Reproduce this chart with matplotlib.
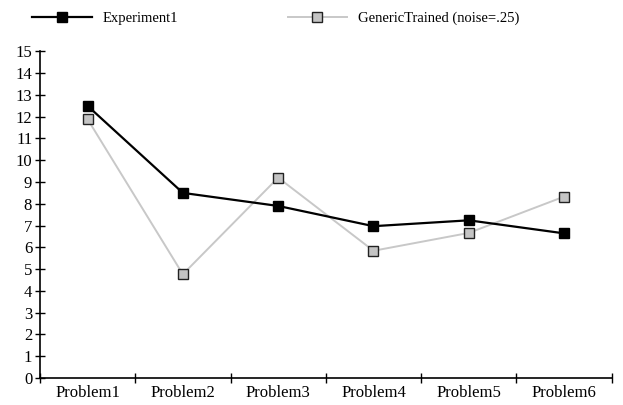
import numpy as np
import matplotlib.pyplot as plt

# values
problems = ["Problem1", "Problem2", "Problem3", "Problem4", "Problem5", "Problem6"]
experiment1 = [12.5, 8.5, 7.9, 6.97, 7.24, 6.64]
generic_trained = [11.89, 4.76, 9.2, 5.84, 6.66, 8.33]
y_ticks = list(range(0, 16))

plt.rcParams['font.family'] = ['Liberation Serif', 'DejaVu Serif']

fig = plt.figure(figsize=(6.23, 4.05), dpi=100)
ax = fig.add_axes([0.064, 0.067, 0.918, 0.806])

x = np.arange(1, len(problems) + 1)
ax.plot(x, experiment1, color='black', linewidth=1.6, marker='s',
        markersize=7.5, markerfacecolor='black', markeredgecolor='black',
        label='Experiment1', zorder=3)
ax.plot(x, generic_trained, color='#c8c8c8', linewidth=1.4, marker='s',
        markersize=7, markerfacecolor='#c4c4c4', markeredgecolor='#222222',
        markeredgewidth=1.0, label='GenericTrained (noise=.25)', zorder=2)

ax.set_xlim(0.5, len(problems) + 0.5)
ax.set_ylim(0, 15)
ax.set_yticks(y_ticks)
ax.set_xticks(np.arange(0.5, len(problems) + 1, 1.0))
ax.set_xticklabels([])
ax.set_xticks(x, minor=True)
ax.set_xticklabels(problems, minor=True)
ax.tick_params(axis='x', which='minor', length=0, labelsize=12, pad=5)
ax.tick_params(axis='x', which='major', direction='inout', length=7, width=1)
ax.tick_params(axis='y', direction='inout', length=7, width=1, labelsize=12, pad=2)

for side in ['top', 'right']:
    ax.spines[side].set_visible(False)
for side in ['left', 'bottom']:
    ax.spines[side].set_linewidth(1.2)
ax.set_clip_on(False)

fig.legend(loc='upper left', bbox_to_anchor=(0.0373, 0.9926), ncol=2, frameon=False,
           fontsize=10.5, handlelength=4.1, handletextpad=0.75, columnspacing=7.5,
           borderaxespad=0.2)

fig.savefig('out.png', dpi=100)
